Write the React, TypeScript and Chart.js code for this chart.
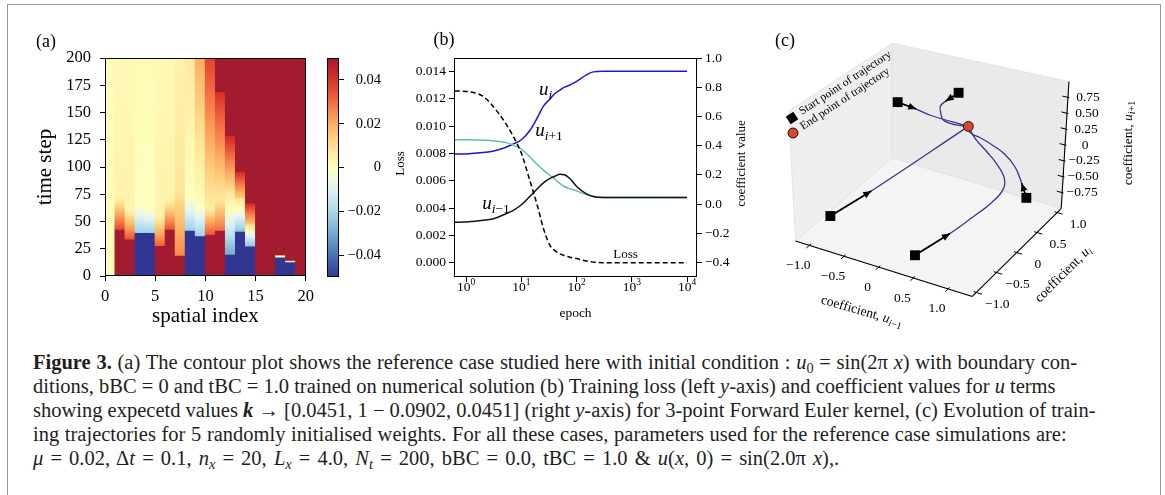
import React, { useEffect, useRef } from 'react';
import { Chart, registerables } from 'chart.js';

Chart.register(...registerables);

const SERIF = '"Liberation Serif", "Times New Roman", Times, serif';
const font = (size: number, style = 'normal', weight = 'normal') => `${style} ${weight} ${size}px ${SERIF}`;
const MINUS = '\u2212';
const signed = (v: number, digits: number) =>
  Math.abs(v) < 1e-12 ? '0' : (v < 0 ? MINUS : '') + Math.abs(v).toFixed(digits);

// ---------------- (a) u(x, t) field ----------------
const SPATIAL_TICKS = [0, 5, 10, 15, 20];
const TIME_TICKS = [0, 25, 50, 75, 100, 125, 150, 175, 200];
const FIELD_TICKS = [-0.04, -0.02, 0, 0.02, 0.04];
const FIELD_MIN = -0.05;
const FIELD_MAX = 0.05;
const RDYLBU_R = ['#313695', '#4575b4', '#74add1', '#abd9e9', '#e0f3f8', '#ffffbf', '#fee090', '#fdae61', '#f46d43', '#d73027', '#a21b2f'];

// One entry per spatial index; each band is [t_start, t_end, u(t_start), u(t_end)]
const FIELD_COLUMNS: number[][][] = [
  [[0, 200, 0.001, 0.001]],
  [[0, 43, 0.05, 0.05], [43, 72, 0.036, 0.004], [72, 200, 0.004, 0.002]],
  [[0, 34, 0.05, 0.05], [34, 60, 0.034, 0.004], [60, 200, 0.004, 0.002]],
  [[0, 40, -0.05, -0.05], [40, 64, -0.022, -0.002], [64, 200, 0.0, 0.002]],
  [[0, 40, -0.05, -0.05], [40, 60, -0.022, -0.002], [60, 200, 0.0, 0.002]],
  [[0, 28, 0.05, 0.05], [28, 55, 0.032, 0.004], [55, 200, 0.004, 0.002]],
  [[0, 43, 0.05, 0.05], [43, 70, 0.034, 0.004], [70, 200, 0.004, 0.002]],
  [[0, 19, 0.05, 0.05], [19, 80, 0.026, 0.008], [80, 200, 0.008, 0.004]],
  [[0, 42, -0.05, -0.05], [42, 70, -0.022, -0.002], [70, 200, 0.0, 0.007]],
  [[0, 37, -0.05, -0.05], [37, 63, -0.022, -0.002], [63, 200, 0.0, 0.02]],
  [[0, 38, 0.05, 0.05], [38, 62, 0.034, 0.006], [62, 200, 0.006, 0.037]],
  [[0, 42, 0.05, 0.05], [42, 72, 0.03, 0.006], [72, 169, 0.008, 0.04], [169, 200, 0.05, 0.05]],
  [[0, 20, -0.05, -0.05], [20, 58, -0.03, -0.003], [58, 78, 0.0, 0.008], [78, 129, 0.01, 0.042], [129, 200, 0.05, 0.05]],
  [[0, 41, -0.05, -0.05], [41, 60, -0.025, -0.003], [60, 72, 0.0, 0.01], [72, 96, 0.014, 0.042], [96, 200, 0.05, 0.05]],
  [[0, 27.5, -0.05, -0.05], [27.5, 40, -0.025, -0.004], [40, 48, 0.0, 0.012], [48, 67, 0.016, 0.042], [67, 200, 0.05, 0.05]],
  [[0, 200, 0.05, 0.05]],
  [[0, 200, 0.05, 0.05]],
  [[0, 17.5, -0.05, -0.05], [17.5, 19.5, -0.005, 0.025], [19.5, 200, 0.05, 0.05]],
  [[0, 13, -0.05, -0.05], [13, 14.5, 0.0, 0.025], [14.5, 200, 0.05, 0.05]],
  [[0, 1.2, 0.0, 0.0], [1.2, 200, 0.05, 0.05]],
];

// ---------------- (b) training history ----------------
const EPOCHS = [0.62, 1, 2, 3, 5, 7, 10, 14, 20, 25, 33, 40, 50, 60, 75, 100, 150, 200, 300, 500, 1000, 10000];
const LOSS = [0.01258, 0.01255, 0.0122, 0.0115, 0.0103, 0.0093, 0.008, 0.0061, 0.004, 0.0025, 0.00125, 0.0009, 0.00065, 0.00052, 0.0004, 0.0003, 0.00012, 0.00004, 0, 0, 0, 0];
const COEF_U_I = [0.342, 0.343, 0.352, 0.362, 0.385, 0.41, 0.44, 0.5, 0.6, 0.67, 0.72, 0.755, 0.78, 0.8, 0.815, 0.84, 0.885, 0.905, 0.9098, 0.9098, 0.9098, 0.9098];
const COEF_U_IP1 = [0.44, 0.44, 0.437, 0.434, 0.422, 0.405, 0.375, 0.325, 0.265, 0.232, 0.195, 0.172, 0.14, 0.12, 0.105, 0.09, 0.064, 0.052, 0.0451, 0.0451, 0.0451, 0.0451];
const COEF_U_IM1 = [-0.125, -0.124, -0.112, -0.103, -0.07, -0.045, -0.005, 0.05, 0.11, 0.145, 0.175, 0.19, 0.203, 0.2, 0.175, 0.12, 0.07, 0.052, 0.0451, 0.0451, 0.0451, 0.0451];
const EPOCH_TICKS = [1, 10, 100, 1000, 10000];
const LOSS_TICKS = [0, 0.002, 0.004, 0.006, 0.008, 0.01, 0.012, 0.014];
const COEF_TICKS = [-0.4, -0.2, 0, 0.2, 0.4, 0.6, 0.8, 1.0];
// label anchors: [epoch, value]
const LABEL_U_I = [20.9, 0.748];
const LABEL_U_IP1 = [17.7, 0.467];
const LABEL_U_IM1 = [1.95, -0.031];
const LABEL_LOSS = [766, 0.00037];

// ---------------- (c) weight trajectories (u_{i-1}, u_i, u_{i+1}) ----------------
const LIM_X = [-1.2, 1.35];
const LIM_Y = [-1.1, 1.1];
const LIM_Z = [-1, 1];
const END_POINT = [0.0451, 0.9098, 0.0451];
const TRAJECTORY_1 = [[-0.8, 0.62, 0.37], [-0.55, 0.65, 0.31], [-0.35, 0.66, 0.26]];
const TRAJECTORY_2 = [[0.2, 0.42, 0.91], [0.1, 0.29, 0.82], [0.0, 0.33, 0.69], [-0.05, 0.42, 0.52], [-0.05, 0.48, 0.37], [0.0, 0.63, 0.23]];
const TRAJECTORY_3 = [[0.9, 0.97, -0.89], [0.85, 0.92, -0.64], [0.78, 0.86, -0.37], [0.65, 0.81, -0.17], [0.5, 0.73, -0.01], [0.3, 0.75, 0.04], [0.15, 0.79, 0.04]];
const TRAJECTORY_4 = [[-0.9, -0.76, -0.71], [-0.55, -0.37, -0.43]];
const TRAJECTORY_5 = [[0.3, -0.73, -0.94], [0.42, -0.09, -0.95], [0.52, 0.26, -0.89], [0.62, 0.57, -0.81], [0.68, 0.75, -0.69], [0.68, 0.77, -0.52], [0.6, 0.7, -0.27], [0.45, 0.7, -0.12], [0.25, 0.75, 0.0]];
const TRAJECTORIES = [TRAJECTORY_1, TRAJECTORY_2, TRAJECTORY_3, TRAJECTORY_4, TRAJECTORY_5];
const XY_TICKS_3D = [-1, -0.5, 0, 0.5, 1];
const Z_TICKS_3D = [-0.75, -0.5, -0.25, 0, 0.25, 0.5, 0.75];

// view: screen position of the eight box corners (key = x,y,z at min/max)
const BOX_CORNERS: Record<string, number[]> = {
  '000': [45, 224], '100': [228, 282], '110': [320, 190], '010': [145, 137],
  '001': [38, 88], '101': [230, 140], '111': [328, 57], '011': [145, 17],
};

function project(p: number[]) {
  const u = (p[0] - LIM_X[0]) / (LIM_X[1] - LIM_X[0]);
  const v = (p[1] - LIM_Y[0]) / (LIM_Y[1] - LIM_Y[0]);
  const w = (p[2] - LIM_Z[0]) / (LIM_Z[1] - LIM_Z[0]);
  let x = 0;
  let y = 0;
  for (const key of Object.keys(BOX_CORNERS)) {
    const [a, b, c] = key.split('').map(Number);
    const wt = (a ? u : 1 - u) * (b ? v : 1 - v) * (c ? w : 1 - w);
    x += wt * BOX_CORNERS[key][0];
    y += wt * BOX_CORNERS[key][1];
  }
  return { x, y };
}

// ---------------- helpers ----------------
const CMAP_RGB = RDYLBU_R.map((h) => [parseInt(h.slice(1, 3), 16), parseInt(h.slice(3, 5), 16), parseInt(h.slice(5, 7), 16)]);
function colorAt(v: number) {
  let t = (v - FIELD_MIN) / (FIELD_MAX - FIELD_MIN);
  t = Math.max(0, Math.min(1, t)) * (CMAP_RGB.length - 1);
  const i = Math.min(CMAP_RGB.length - 2, Math.floor(t));
  const f = t - i;
  const a = CMAP_RGB[i];
  const b = CMAP_RGB[i + 1];
  return `rgb(${Math.round(a[0] + (b[0] - a[0]) * f)},${Math.round(a[1] + (b[1] - a[1]) * f)},${Math.round(a[2] + (b[2] - a[2]) * f)})`;
}

function verticalGradient(chart: any, t0: number, t1: number, v0: number, v1: number) {
  if (v0 === v1) return colorAt(v0);
  const ys = chart.scales.y;
  const p0 = ys.getPixelForValue(t0);
  const p1 = ys.getPixelForValue(t1);
  if (!Number.isFinite(p0) || !Number.isFinite(p1) || Math.abs(p1 - p0) < 0.5) return colorAt((v0 + v1) / 2);
  const g = chart.ctx.createLinearGradient(0, p0, 0, p1);
  const n = 16;
  for (let k = 0; k <= n; k++) g.addColorStop(k / n, colorAt(v0 + (v1 - v0) * (k / n)));
  return g;
}

type Run = [string, string, number?];
function drawRuns(ctx: CanvasRenderingContext2D, runs: Run[], x: number, y: number, align: 'left' | 'center' = 'left', rotation = 0) {
  ctx.save();
  ctx.translate(x, y);
  if (rotation) ctx.rotate(rotation);
  ctx.textAlign = 'left';
  ctx.textBaseline = 'alphabetic';
  let width = 0;
  for (const [t, f] of runs) {
    ctx.font = f;
    width += ctx.measureText(t).width;
  }
  let cx = align === 'center' ? -width / 2 : 0;
  for (const [t, f, dy = 0] of runs) {
    ctx.font = f;
    ctx.fillText(t, cx, dy);
    cx += ctx.measureText(t).width;
  }
  ctx.restore();
}

const tickGrid = { drawOnChartArea: false, drawTicks: true, tickLength: 5, color: '#000', lineWidth: 1 };
const fixedTicks = (values: number[]) => (scale: any) => {
  scale.ticks = values.map((value) => ({ value }));
};
const quiet = { legend: { display: false }, tooltip: { enabled: false } };

function strokeArea(ctx: CanvasRenderingContext2D, a: any) {
  ctx.save();
  ctx.strokeStyle = '#000';
  ctx.lineWidth = 1;
  ctx.strokeRect(Math.round(a.left) + 0.5, Math.round(a.top) + 0.5, Math.round(a.right - a.left) - 1, Math.round(a.bottom - a.top) - 1);
  ctx.restore();
}

// ---------------- charts ----------------
function makeField(canvas: HTMLCanvasElement) {
  const bars: any[] = [];
  FIELD_COLUMNS.forEach((col, i) =>
    col.forEach(([t0, t1, v0, v1]) => bars.push({ x: i + 0.5, y: [t0, t1], v0, v1 })),
  );
  return new Chart(canvas, {
    type: 'bar',
    data: {
      datasets: [
        {
          data: bars,
          grouped: false,
          barPercentage: 1,
          categoryPercentage: 1,
          borderWidth: 0,
          inflateAmount: 0.5,
          backgroundColor: (c: any) => {
            const d = c.raw;
            if (!d) return colorAt(0);
            return verticalGradient(c.chart, d.y[0], d.y[1], d.v0, d.v1);
          },
        } as any,
      ],
    },
    options: {
      animation: false,
      responsive: false,
      events: [],
      layout: { padding: { top: 38, right: 7, left: 0, bottom: 0 } },
      plugins: quiet as any,
      scales: {
        x: {
          type: 'linear',
          min: 0,
          max: 20,
          offset: false,
          afterBuildTicks: fixedTicks(SPATIAL_TICKS),
          afterFit: (s: any) => { s.height = 64; },
          grid: { ...tickGrid, offset: false } as any,
          border: { display: false },
          ticks: { color: '#000', font: { family: SERIF, size: 16.5 }, padding: 6, maxRotation: 0, autoSkip: false, callback: (v: any) => String(v) },
        },
        y: {
          type: 'linear',
          min: 0,
          max: 200,
          afterBuildTicks: fixedTicks(TIME_TICKS),
          afterFit: (s: any) => { s.width = 90; },
          grid: tickGrid as any,
          border: { display: false },
          ticks: { color: '#000', font: { family: SERIF, size: 16.5 }, padding: 9, autoSkip: false, callback: (v: any) => String(v) },
        },
      },
    },
    plugins: [
      {
        id: 'fieldFrame',
        afterDraw(chart: any) {
          const { ctx, chartArea: a } = chart;
          strokeArea(ctx, a);
          ctx.save();
          ctx.fillStyle = '#000';
          ctx.textAlign = 'center';
          ctx.textBaseline = 'middle';
          ctx.font = font(21);
          ctx.fillText('spatial index', (a.left + a.right) / 2, a.bottom + 40);
          ctx.translate(a.left - 60, (a.top + a.bottom) / 2);
          ctx.rotate(-Math.PI / 2);
          ctx.fillText('time step', 0, 0);
          ctx.restore();
          ctx.save();
          ctx.fillStyle = '#000';
          ctx.textAlign = 'center';
          ctx.textBaseline = 'middle';
          ctx.font = font(18);
          ctx.fillText('(a)', a.left - 59, a.top - 16);
          ctx.restore();
        },
      },
    ],
  } as any);
}

function makeColorbar(canvas: HTMLCanvasElement) {
  return new Chart(canvas, {
    type: 'bar',
    data: {
      labels: [''],
      datasets: [
        {
          data: [[FIELD_MIN, FIELD_MAX]],
          barPercentage: 1,
          categoryPercentage: 1,
          borderWidth: 0,
          backgroundColor: (c: any) => verticalGradient(c.chart, FIELD_MIN, FIELD_MAX, FIELD_MIN, FIELD_MAX),
        } as any,
      ],
    },
    options: {
      animation: false,
      responsive: false,
      events: [],
      layout: { padding: { top: 38, left: 7, bottom: 63, right: 19 } },
      plugins: quiet as any,
      scales: {
        x: { display: false },
        y: {
          position: 'right',
          min: FIELD_MIN,
          max: FIELD_MAX,
          afterBuildTicks: fixedTicks(FIELD_TICKS),
          afterFit: (s: any) => { s.width = 42; },
          grid: tickGrid as any,
          border: { display: false },
          ticks: { color: '#000', font: { family: SERIF, size: 14.5 }, padding: 4, crossAlign: 'far', callback: (v: any) => signed(Number(v), 2) },
        },
      },
    },
    plugins: [{ id: 'cbFrame', afterDraw: (chart: any) => strokeArea(chart.ctx, chart.chartArea) }],
  } as any);
}

function makeHistory(canvas: HTMLCanvasElement) {
  const pts = (ys: number[]) => EPOCHS.map((x, i) => ({ x, y: ys[i] }));
  const line = { pointRadius: 0, borderWidth: 1.5, cubicInterpolationMode: 'monotone', fill: false };
  const mi = font(19, 'italic');
  const si = font(13.5, 'italic');
  const sn = font(13.5);
  return new Chart(canvas, {
    type: 'line',
    data: {
      datasets: [
        { ...line, data: pts(LOSS), yAxisID: 'yL', borderColor: '#000', borderDash: [5, 3] },
        { ...line, data: pts(COEF_U_IM1), yAxisID: 'yR', borderColor: '#111' },
        { ...line, data: pts(COEF_U_IP1), yAxisID: 'yR', borderColor: '#62bbb1' },
        { ...line, data: pts(COEF_U_I), yAxisID: 'yR', borderColor: '#1a1acb' },
      ] as any,
    },
    options: {
      animation: false,
      responsive: false,
      events: [],
      layout: { padding: { top: 38, left: 0, right: 0, bottom: 0 } },
      plugins: quiet as any,
      scales: {
        x: {
          type: 'logarithmic',
          min: 0.607,
          max: 15136,
          afterBuildTicks: fixedTicks(EPOCH_TICKS),
          afterFit: (s: any) => { s.height = 53; },
          grid: tickGrid as any,
          border: { display: false },
          ticks: { callback: () => '', autoSkip: false, maxRotation: 0 },
        },
        yL: {
          type: 'linear',
          position: 'left',
          min: -0.00105,
          max: 0.015,
          afterBuildTicks: fixedTicks(LOSS_TICKS),
          afterFit: (s: any) => { s.width = 64; },
          grid: tickGrid as any,
          border: { display: false },
          ticks: { color: '#000', font: { family: SERIF, size: 13.5 }, padding: 3, callback: (v: any) => Number(v).toFixed(3) },
        },
        yR: {
          type: 'linear',
          position: 'right',
          min: -0.5,
          max: 1.0,
          afterBuildTicks: fixedTicks(COEF_TICKS),
          afterFit: (s: any) => { s.width = 58; },
          grid: tickGrid as any,
          border: { display: false },
          ticks: { color: '#000', font: { family: SERIF, size: 13.5 }, padding: 3, callback: (v: any) => signed(Number(v), 1).replace(/^0$/, '0.0') },
        },
      },
    },
    plugins: [
      {
        id: 'historyFrame',
        afterDraw(chart: any) {
          const { ctx, chartArea: a, scales } = chart;
          strokeArea(ctx, a);
          ctx.save();
          ctx.fillStyle = '#000';
          for (const e of EPOCH_TICKS) {
            const px = scales.x.getPixelForValue(e);
            drawRuns(ctx, [['10', font(13.5), 0], [String(Math.round(Math.log10(e))), font(9.5), -6]], px, a.bottom + 14, 'center');
          }
          const mid = (a.top + a.bottom) / 2 - 4;
          drawRuns(ctx, [['epoch', font(13.5), 4]], (a.left + a.right) / 2, a.bottom + 36, 'center');
          drawRuns(ctx, [['Loss', font(13), 4]], a.left - 54, mid, 'center', -Math.PI / 2);
          drawRuns(ctx, [['coefficient value', font(13), 4]], a.right + 44, mid, 'center', -Math.PI / 2);
          const X = (e: number) => scales.x.getPixelForValue(e);
          const R = (v: number) => scales.yR.getPixelForValue(v);
          drawRuns(ctx, [['u', mi, 0], ['i', si, 4]], X(LABEL_U_I[0]), R(LABEL_U_I[1]));
          drawRuns(ctx, [['u', mi, 0], ['i', si, 4], ['+1', sn, 4]], X(LABEL_U_IP1[0]), R(LABEL_U_IP1[1]));
          drawRuns(ctx, [['u', mi, 0], ['i', si, 4], [MINUS + '1', sn, 4]], X(LABEL_U_IM1[0]), R(LABEL_U_IM1[1]));
          drawRuns(ctx, [['Loss', font(13)]], X(LABEL_LOSS[0]), scales.yL.getPixelForValue(LABEL_LOSS[1]), 'center');
          ctx.font = font(18);
          ctx.textAlign = 'center';
          ctx.textBaseline = 'middle';
          ctx.fillText('(b)', a.left - 10, a.top - 18);
          ctx.restore();
        },
      },
    ],
  } as any);
}

function makeTrajectories(canvas: HTMLCanvasElement, w: number, h: number) {
  const toPx = (chart: any, p: number[]) => {
    const q = project(p);
    return { x: chart.scales.x.getPixelForValue(q.x), y: chart.scales.y.getPixelForValue(q.y) };
  };
  const [x0, x1] = LIM_X;
  const [y0, y1] = LIM_Y;
  const [z0, z1] = LIM_Z;
  const datasets: any[] = [
    { data: [project(END_POINT)], pointStyle: 'circle', pointRadius: 5, backgroundColor: '#d9472f', borderColor: '#000', borderWidth: 0.8 },
    { data: TRAJECTORIES.map((t) => project(t[0])), pointStyle: 'rect', pointRadius: 7, backgroundColor: '#000', borderColor: '#000', borderWidth: 0 },
    ...TRAJECTORIES.map((t) => ({ data: [project(t[0]), project(t[1])], showLine: true, borderColor: '#000', borderWidth: 1.6, pointRadius: 0 })),
    ...TRAJECTORIES.map((t) => ({ data: [...t, END_POINT].map(project), showLine: true, borderColor: '#3b3587', borderWidth: 1.3, pointRadius: 0, tension: 0.4 })),
  ];
  const label13 = font(13.5);
  return new Chart(canvas, {
    type: 'scatter',
    data: { datasets },
    options: {
      animation: false,
      responsive: false,
      events: [],
      layout: { padding: 0 },
      plugins: quiet as any,
      scales: {
        x: { type: 'linear', min: 0, max: w, display: false },
        y: { type: 'linear', min: 0, max: h, reverse: true, display: false },
      },
    },
    plugins: [
      {
        id: 'cube',
        beforeDatasetsDraw(chart: any) {
          const ctx: CanvasRenderingContext2D = chart.ctx;
          const P = (p: number[]) => toPx(chart, p);
          const pane = (pts: number[][], fill: string) => {
            ctx.beginPath();
            pts.map(P).forEach((q, i) => (i ? ctx.lineTo(q.x, q.y) : ctx.moveTo(q.x, q.y)));
            ctx.closePath();
            ctx.fillStyle = fill;
            ctx.fill();
            ctx.strokeStyle = '#e0e0e0';
            ctx.lineWidth = 0.8;
            ctx.stroke();
          };
          const seg = (a: number[], b: number[], lw = 1) => {
            const p = P(a);
            const q = P(b);
            ctx.beginPath();
            ctx.moveTo(p.x, p.y);
            ctx.lineTo(q.x, q.y);
            ctx.lineWidth = lw;
            ctx.strokeStyle = '#000';
            ctx.stroke();
          };
          ctx.save();
          pane([[x0, y0, z0], [x0, y1, z0], [x0, y1, z1], [x0, y0, z1]], '#efefef');
          pane([[x0, y1, z0], [x1, y1, z0], [x1, y1, z1], [x0, y1, z1]], '#eaeaea');
          pane([[x0, y0, z0], [x1, y0, z0], [x1, y1, z0], [x0, y1, z0]], '#f4f4f4');
          seg([x0, y0, z0], [x1, y0, z0], 1.1);
          seg([x1, y0, z0], [x1, y1, z0], 1.1);
          seg([x1, y1, z0], [x1, y1, z1], 1.1);
          XY_TICKS_3D.forEach((t) => seg([t, y0 + 0.04, z0], [t, y0 - 0.07, z0]));
          XY_TICKS_3D.forEach((t) => seg([x1 - 0.04, t, z0], [x1 + 0.08, t, z0]));
          Z_TICKS_3D.forEach((t) => seg([x1 - 0.08, y1, t], [x1 + 0.02, y1, t]));
          ctx.restore();
        },
        afterDatasetsDraw(chart: any) {
          const ctx: CanvasRenderingContext2D = chart.ctx;
          const P = (p: number[]) => toPx(chart, p);
          ctx.save();
          // arrow heads at the end of each black shaft
          ctx.fillStyle = '#000';
          for (const t of TRAJECTORIES) {
            const a = P(t[0]);
            const b = P(t[1]);
            const len = Math.hypot(b.x - a.x, b.y - a.y) || 1;
            const ux = (b.x - a.x) / len;
            const uy = (b.y - a.y) / len;
            ctx.beginPath();
            ctx.moveTo(b.x, b.y);
            ctx.lineTo(b.x - 8 * ux - 3.5 * uy, b.y - 8 * uy + 3.5 * ux);
            ctx.lineTo(b.x - 8 * ux + 3.5 * uy, b.y - 8 * uy - 3.5 * ux);
            ctx.closePath();
            ctx.fill();
          }
          // tick labels
          ctx.textAlign = 'center';
          ctx.textBaseline = 'middle';
          ctx.font = label13;
          XY_TICKS_3D.forEach((t) => {
            const p = P([t, y0, z0]);
            ctx.fillText(signed(t, 1), p.x - 11, p.y + 20);
          });
          XY_TICKS_3D.forEach((t) => {
            const p = P([x1, t, z0]);
            ctx.fillText(signed(t, 1), p.x + 21, p.y + 12);
          });
          Z_TICKS_3D.forEach((t) => {
            const p = P([x1, y1, t]);
            ctx.fillText(signed(t, 2), p.x + 20, p.y);
          });
          // axis titles
          const ti = font(13.5, 'italic');
          const sub = font(10, 'italic');
          const subn = font(10);
          drawRuns(ctx, [['coefficient, ', label13, 4], ['u', ti, 4], ['i', sub, 7], [MINUS + '1', subn, 7]], 117, 291, 'center', (16 * Math.PI) / 180);
          drawRuns(ctx, [['coefficient, ', label13, 4], ['u', ti, 4], ['i', sub, 7]], 318, 254, 'center', -Math.PI / 4);
          drawRuns(ctx, [['coefficient, ', label13, 4], ['u', ti, 4], ['i', sub, 7], ['+1', subn, 7]], 383, 123, 'center', -Math.PI / 2);
          // legend laid along the upper edge of the left pane
          const e0 = P([x0, y0, z1]);
          const e1 = P([x0, y1, z1]);
          const ang = Math.atan2(e1.y - e0.y, e1.x - e0.x);
          const entries = [
            { at: [47, 98], label: 'Start point of trajectory', square: true },
            { at: [48, 113], label: 'End point of trajectory', square: false },
          ];
          for (const en of entries) {
            ctx.save();
            ctx.translate(en.at[0], en.at[1]);
            ctx.rotate(ang);
            if (en.square) {
              ctx.fillStyle = '#000';
              ctx.fillRect(-4.5, -4.5, 9, 9);
            } else {
              ctx.beginPath();
              ctx.arc(0, 0, 5, 0, Math.PI * 2);
              ctx.fillStyle = '#d9472f';
              ctx.fill();
              ctx.lineWidth = 0.8;
              ctx.strokeStyle = '#000';
              ctx.stroke();
            }
            ctx.fillStyle = '#000';
            ctx.font = font(11.5);
            ctx.textAlign = 'left';
            ctx.textBaseline = 'middle';
            ctx.fillText(en.label, 10, 0);
            ctx.restore();
          }
          ctx.fillStyle = '#000';
          ctx.font = font(18);
          ctx.textAlign = 'center';
          ctx.textBaseline = 'middle';
          ctx.fillText('(c)', 40, 21);
          ctx.restore();
        },
      },
    ],
  } as any);
}

const SUB: React.CSSProperties = { fontSize: '0.7em', position: 'relative', top: '0.28em', lineHeight: 0, verticalAlign: 'baseline' };

export default function App() {
  const fieldRef = useRef<HTMLCanvasElement>(null);
  const cbarRef = useRef<HTMLCanvasElement>(null);
  const histRef = useRef<HTMLCanvasElement>(null);
  const trajRef = useRef<HTMLCanvasElement>(null);

  useEffect(() => {
    const charts: Chart[] = [];
    if (fieldRef.current) charts.push(makeField(fieldRef.current));
    if (cbarRef.current) charts.push(makeColorbar(cbarRef.current));
    if (histRef.current) charts.push(makeHistory(histRef.current));
    if (trajRef.current) charts.push(makeTrajectories(trajRef.current, 415, 315));
    return () => charts.forEach((c) => c.destroy());
  }, []);

  const abs = (left: number, top: number): React.CSSProperties => ({ position: 'absolute', left, top });

  return (
    <div style={{ position: 'absolute', left: 0, top: 0, width: 1165, height: 495, overflow: 'hidden', background: '#fff' }}>
      <div
        style={{
          position: 'absolute', left: 7, top: 4, width: 1154, height: 491, boxSizing: 'border-box',
          borderTop: '1px solid #9a9a9a', borderLeft: '1px solid #9a9a9a', borderRight: '1px solid #9a9a9a',
        }}
      />
      <canvas ref={fieldRef} width={305} height={320} style={abs(15, 20)} />
      <canvas ref={cbarRef} width={80} height={320} style={abs(320, 20)} />
      <canvas ref={histRef} width={365} height={310} style={abs(390, 20)} />
      <canvas ref={trajRef} width={415} height={315} style={abs(745, 20)} />
      <div
        style={{
          position: 'absolute', left: 33, top: 350, fontFamily: SERIF, fontSize: 20.5, lineHeight: '24px',
          color: '#1e1e1e', whiteSpace: 'nowrap',
        }}
      >
        <div style={{ wordSpacing: '0.6px' }}>
          <b>Figure 3.</b> (a) The contour plot shows the reference case studied here with initial condition : <i>u</i>
          <span style={SUB}>0</span> = sin(2π<i> x</i>) with boundary con-
        </div>
        <div>
          ditions, bBC = 0 and tBC = 1.0 trained on numerical solution (b) Training loss (left <i>y</i>-axis) and coefficient values for <i>u</i> terms
        </div>
        <div>
          showing expecetd values <b><i>k</i></b> → [0.0451, 1 − 0.0902, 0.0451] (right <i>y</i>-axis) for 3-point Forward Euler kernel, (c) Evolution of train-
        </div>
        <div style={{ wordSpacing: '0.5px' }}>ing trajectories for 5 randomly initialised weights. For all these cases, parameters used for the reference case simulations are:</div>
        <div style={{ wordSpacing: '2px' }}>
          <i>μ</i> = 0.02, Δ<i>t</i> = 0.1, <i>n</i>
          <span style={SUB}><i>x</i></span> = 20, <i>L</i>
          <span style={SUB}><i>x</i></span> = 4.0, <i>N</i>
          <span style={SUB}><i>t</i></span> = 200, bBC = 0.0, tBC = 1.0 &amp; <i>u</i>(<i>x</i>, 0) = sin(2.0π<i> x</i>),.
        </div>
      </div>
    </div>
  );
}
